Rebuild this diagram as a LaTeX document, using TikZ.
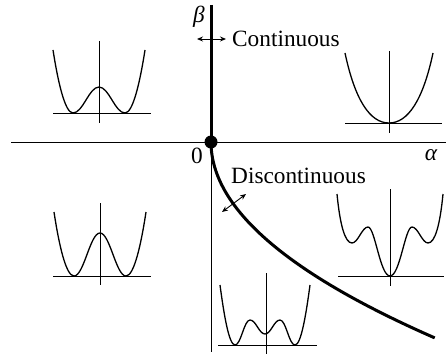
\documentclass[tikz,border=0pt]{standalone}
\usepackage{fontspec}
\setmainfont{Liberation Serif}
\usetikzlibrary{arrows.meta}
\begin{document}
\begin{tikzpicture}[x={(1pt,0)},y={(0,-1pt)},
  thinline/.style={line width=0.9pt},
  thickline/.style={line width=3pt},
  pot/.style={line width=1.3pt},
  lbl/.style={inner sep=0pt,font=\fontsize{23.3}{28}\selectfont},
  dblarrow/.style={line width=0.9pt,{Stealth[length=6pt,width=5pt]}-{Stealth[length=6pt,width=5pt]}}]
\useasboundingbox (0,0) rectangle (446,358);
% main axes
\coordinate (O) at (211,142);
\coordinate (xl) at (11,142);
\coordinate (xr) at (446,142);
\coordinate (yt) at (211,5);
\coordinate (yb) at (211,352);
\draw[thinline] (xl) -- (xr);
\draw[thinline] (O) -- (yb);
\draw[thickline] (yt) -- (O);
\draw[thickline] plot[domain=0:1,samples=80] ({211+224*\x*\x},{142+196*\x});
\fill (O) circle (6.5);
% labels
\node[lbl] (beta) at (199,17) {\itshape β};
\node[lbl,anchor=base west] (cont) at (232,47) {Continuous};
\node[lbl,anchor=base] (zero) at (197,163) {0};
\node[lbl,anchor=base] (alpha) at (431,160) {\itshape α};
\node[lbl,anchor=base west] (disc) at (231,183) {Discontinuous};
% arrows
\coordinate (ca) at (197,39);
\coordinate (cb) at (226,39);
\draw[dblarrow] (ca) -- (cb);
\coordinate (da) at (222,212);
\coordinate (db) at (246,194);
\draw[dblarrow] (da) -- (db);
% inset 1 (top left)
\draw[thinline] (53,113) -- (151,113);
\draw[thinline] (99,41) -- (99,123);
\draw[pot] (53,50) .. controls (58,82) and (65,113) .. (73,113)
  .. controls (83,113) and (89,87) .. (99,87)
  .. controls (109,87) and (115,113) .. (125,113)
  .. controls (133,113) and (140,82) .. (145,50);
% inset 2 (top right)
\draw[thinline] (345,123) -- (442,123);
\draw[thinline] (389,51) -- (389,133);
\draw[pot] (345,53) .. controls (355,100) and (370,123) .. (389,123)
  .. controls (408,123) and (423,100) .. (433,53);
% inset 3 (middle left)
\draw[thinline] (53,276) -- (151,276);
\draw[thinline] (100,203) -- (100,285);
\draw[pot] (54,212) .. controls (59,245) and (66,276) .. (74,276)
  .. controls (84,276) and (90,233) .. (100,233)
  .. controls (110,233) and (116,276) .. (126,276)
  .. controls (134,276) and (141,245) .. (146,212);
% inset 4 (middle right)
\draw[thinline] (338,276) -- (444,276);
\draw[thinline] (390,189) -- (390,286);
\draw[pot] (337,194) .. controls (340,225) and (345,243) .. (352,243)
  .. controls (358,243) and (362,227) .. (368,227)
  .. controls (375,227) and (380,276) .. (390,276)
  .. controls (400,276) and (405,227) .. (412,227)
  .. controls (418,227) and (422,243) .. (428,243)
  .. controls (435,243) and (440,225) .. (443,194);
% inset 5 (bottom)
\draw[thinline] (218,345) -- (317,345);
\draw[thinline] (266,273) -- (266,354);
\draw[pot] (220,285) .. controls (224,315) and (229,345) .. (235,345)
  .. controls (241,345) and (244,320) .. (250,320)
  .. controls (256,320) and (259,334) .. (265,334)
  .. controls (271,334) and (274,320) .. (280,320)
  .. controls (286,320) and (289,345) .. (295,345)
  .. controls (301,345) and (306,315) .. (310,285);
\end{tikzpicture}
\end{document}
